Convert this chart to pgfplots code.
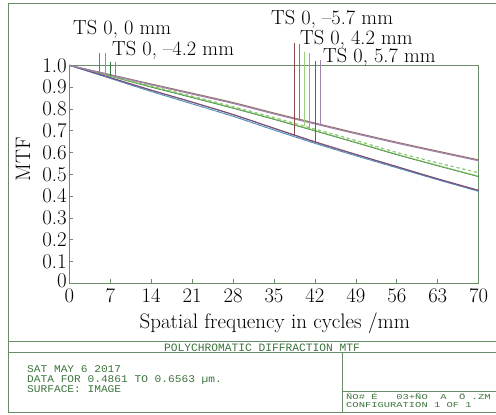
\documentclass[border=0pt]{standalone}
\usepackage{fontspec}
\newfontfamily\zmono{Liberation Mono}
\usepackage{pgfplots}
\usepackage{pgfplotstable}
\pgfplotsset{compat=1.18}

\definecolor{frame}{RGB}{105,140,105}
\definecolor{ztext}{RGB}{60,115,60}
\definecolor{blueT}{RGB}{70,130,170}
\definecolor{blueS}{RGB}{100,165,185}
\definecolor{greenT}{RGB}{50,120,60}
\definecolor{greenS}{RGB}{95,165,90}
\definecolor{brownT}{RGB}{140,75,70}
\definecolor{brownS}{RGB}{150,115,100}
\definecolor{lgT}{RGB}{120,190,90}
\definecolor{lgS}{RGB}{150,210,120}
\definecolor{purT}{RGB}{110,80,150}
\definecolor{purS}{RGB}{160,130,175}

% MTF, columns per field: T and S
\pgfplotstableread{
f   bl    gT    gS    brT   brS   lgT   lgS   puT   puS
0   1.000 1.000 1.000 1.000 1.000 1.000 1.000 1.000 1.000
7   0.940 0.950 0.952 0.944 0.957 0.951 0.953 0.943 0.955
14  0.880 0.900 0.905 0.887 0.914 0.902 0.906 0.885 0.911
21  0.823 0.852 0.858 0.832 0.872 0.854 0.859 0.830 0.868
28  0.766 0.803 0.810 0.775 0.829 0.805 0.811 0.773 0.825
35  0.703 0.752 0.760 0.712 0.781 0.754 0.761 0.710 0.777
42  0.642 0.699 0.707 0.650 0.735 0.701 0.708 0.647 0.731
49  0.585 0.645 0.655 0.592 0.690 0.647 0.656 0.590 0.686
56  0.530 0.590 0.600 0.536 0.647 0.592 0.601 0.534 0.643
63  0.475 0.539 0.552 0.480 0.606 0.541 0.553 0.478 0.602
70  0.422 0.489 0.507 0.427 0.566 0.491 0.508 0.425 0.562
}\mtf

\begin{document}
\begin{tikzpicture}
\useasboundingbox (0,0) rectangle (496bp,415bp);
\clip (0,0) rectangle (496bp,415bp);

% outer plotter frame
\draw[frame, line width=1bp] (8bp,2bp) rectangle (505bp,411bp);
\draw[frame, line width=1bp] (8bp,73bp) -- (505bp,73bp);
\draw[frame, line width=1bp] (8bp,62bp) -- (505bp,62bp);
\draw[frame, line width=1bp] (342bp,62bp) -- (342bp,2bp);
\draw[frame, line width=1bp] (342bp,23bp) -- (505bp,23bp);

\begin{axis}[
  at={(69.3bp,131.7bp)}, anchor=south west,
  scale only axis, width=409.4bp, height=218bp,
  xmin=0, xmax=70, ymin=0, ymax=1,
  clip=false,
  xtick={0,7,...,70},
  ytick={0,0.1,0.2,0.3,0.4,0.5,0.6,0.7,0.8,0.9,1.0},
  yticklabels={\raisebox{5bp}{0},0.1,0.2,0.3,0.4,0.5,0.6,0.7,0.8,0.9,1.0},
  tick pos=left, tick align=inside, major tick length=4bp,
  axis line style={draw=frame, line width=0.9bp},
  tick style={draw=frame, line width=0.7bp},
  tick label style={font=\fontsize{21}{22}\selectfont},
  yticklabel style={xshift=1bp},
  xticklabel style={yshift=-2bp},
  xlabel={Spatial frequency in cycles /mm},
  ylabel={MTF},
  label style={font=\fontsize{21}{22}\selectfont},
  xlabel style={at={(axis description cs:0.502,-0.182)}, anchor=center},
  ylabel style={at={(axis description cs:-0.113,0.57)}, anchor=center},
  every axis plot/.append style={line width=0.8bp, smooth},
]
\addplot[blueT] table[x=f,y=bl] {\mtf};
\addplot[blueS, dashed] table[x=f,y=bl] {\mtf};
\addplot[greenT] table[x=f,y=gT] {\mtf};
\addplot[greenS, dashed] table[x=f,y=gS] {\mtf};
\addplot[brownT] table[x=f,y=brT] {\mtf};
\addplot[brownS, line width=1.1bp] table[x=f,y=brS] {\mtf};
\addplot[lgT] table[x=f,y=lgT] {\mtf};
\addplot[lgS, dashed] table[x=f,y=lgS] {\mtf};
\addplot[purT] table[x=f,y=puT] {\mtf};
\addplot[purS, line width=1.1bp] table[x=f,y=puS] {\mtf};

% legend drop lines
\addplot[blueT, sharp plot] coordinates {(5.1,1.056) (5.1,0.956)};
\addplot[blueS, sharp plot] coordinates {(6.1,1.056) (6.1,0.948)};
\addplot[greenT, sharp plot] coordinates {(7.0,1.015) (7.0,0.950)};
\addplot[greenS, sharp plot] coordinates {(7.9,1.015) (7.9,0.945)};
\addplot[brownT, sharp plot] coordinates {(38.5,1.100) (38.5,0.680)};
\addplot[brownS, sharp plot] coordinates {(39.4,1.098) (39.4,0.751)};
\addplot[lgS, sharp plot] coordinates {(40.2,1.061) (40.2,0.720)};
\addplot[lgT, sharp plot] coordinates {(41.1,1.056) (41.1,0.706)};
\addplot[purT, sharp plot] coordinates {(42.0,1.019) (42.0,0.645)};
\addplot[purS, sharp plot] coordinates {(43.0,1.024) (43.0,0.723)};
\end{axis}

\begin{scope}[every node/.style={inner sep=0pt, anchor=base west, font=\fontsize{20.5}{22}\selectfont}]
\node at (73bp,380bp) {TS 0, 0 mm};
\node at (112bp,359bp) {TS 0, --4.2 mm};
\node at (271bp,390bp) {TS 0, --5.7 mm};
\node at (300bp,370bp) {TS 0, 4.2 mm};
\node at (323bp,352bp) {TS 0, 5.7 mm};
\end{scope}

\begin{scope}[every node/.style={inner sep=0pt, text=ztext, font=\zmono\fontsize{11.3}{12}\selectfont}]
\node[anchor=center] at (262bp,67.5bp) {POLYCHROMATIC DIFFRACTION MTF};
\end{scope}
\begin{scope}[every node/.style={inner sep=0pt, text=ztext, anchor=base west, font=\zmono\fontsize{10.3}{11}\selectfont}]
\node at (27bp,42bp) {\scalebox{1.09}[1]{SAT MAY 6 2017}};
\node at (27bp,32.5bp) {\scalebox{1.09}[1]{DATA FOR 0.4861 TO 0.6563 µm.}};
\node at (27bp,23bp) {\scalebox{1.09}[1]{SURFACE: IMAGE}};
\end{scope}
\begin{scope}[every node/.style={inner sep=0pt, text=ztext, anchor=base west, font=\zmono\fontsize{10.5}{11}\selectfont}]
\node at (346bp,15.5bp) {\scalebox{1}[0.72]{ÑO\#~É~~~03+ÑO~~A~~Ö~.ZM}};
\node at (346bp,8bp) {\scalebox{1}[0.72]{CONFIGURATION 1 OF 1}};
\end{scope}
\end{tikzpicture}
\end{document}
